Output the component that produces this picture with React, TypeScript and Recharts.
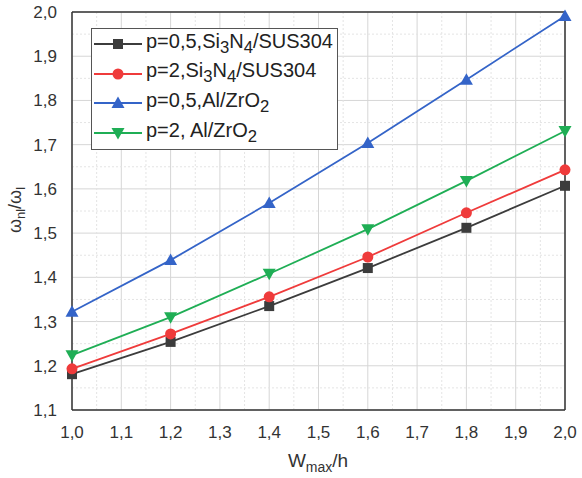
import React from 'react';
import { LineChart, Line, XAxis, YAxis, CartesianGrid, ReferenceLine } from 'recharts';

const xValues = [1.0, 1.2, 1.4, 1.6, 1.8, 2.0];
const sSi05 = [1.181, 1.254, 1.335, 1.421, 1.512, 1.607];
const sSi2 = [1.193, 1.272, 1.356, 1.446, 1.546, 1.643];
const sAl05 = [1.322, 1.439, 1.568, 1.704, 1.847, 1.991];
const sAl2 = [1.224, 1.31, 1.408, 1.509, 1.618, 1.731];

const xTicks = [1.0, 1.1, 1.2, 1.3, 1.4, 1.5, 1.6, 1.7, 1.8, 1.9, 2.0];
const yTicks = [1.1, 1.2, 1.3, 1.4, 1.5, 1.6, 1.7, 1.8, 1.9, 2.0];
const xMinor = [1.05, 1.15, 1.25, 1.35, 1.45, 1.55, 1.65, 1.75, 1.85, 1.95];
const yMinor = [1.15, 1.25, 1.35, 1.45, 1.55, 1.65, 1.75, 1.85, 1.95];

const COLORS = { si05: '#3c3c3c', si2: '#ef3b3b', al05: '#3464c8', al2: '#1fae55' };

const data = xValues.map((x, i) => ({ x, si05: sSi05[i], si2: sSi2[i], al05: sAl05[i], al2: sAl2[i] }));

const fmt = (v: number) => v.toFixed(1).replace('.', ',');
const FONT = 'Liberation Sans, Arial, sans-serif';

type Shape = 'square' | 'circle' | 'up' | 'down';

const marker = (shape: Shape, color: string, cx: number, cy: number, key?: any) => {
  if (shape === 'square') return <rect key={key} x={cx - 5} y={cy - 5} width={10} height={10} fill={color} />;
  if (shape === 'circle') return <circle key={key} cx={cx} cy={cy} r={5.5} fill={color} />;
  if (shape === 'up') return <polygon key={key} points={`${cx},${cy - 6.5} ${cx - 6.5},${cy + 5} ${cx + 6.5},${cy + 5}`} fill={color} />;
  return <polygon key={key} points={`${cx},${cy + 6.5} ${cx - 6.5},${cy - 5} ${cx + 6.5},${cy - 5}`} fill={color} />;
};

const dotFn = (shape: Shape, color: string) => (p: any) => marker(shape, color, p.cx, p.cy, `${shape}-${p.index}`);

const legendItems: { shape: Shape; color: string; label: React.ReactNode }[] = [
  { shape: 'square', color: COLORS.si05, label: <>p=0,5,Si<sub>3</sub>N<sub>4</sub>/SUS304</> },
  { shape: 'circle', color: COLORS.si2, label: <>p=2,Si<sub>3</sub>N<sub>4</sub>/SUS304</> },
  { shape: 'up', color: COLORS.al05, label: <>p=0,5,Al/ZrO<sub>2</sub></> },
  { shape: 'down', color: COLORS.al2, label: <>p=2, Al/ZrO<sub>2</sub></> },
];

const YLabel = () => (
  <text x={21} y={210} transform="rotate(-90 21 210)" textAnchor="middle" fontFamily={FONT} fontSize={18} fill="#333">
    ω<tspan fontSize={13} dy={4}>nl</tspan>
    <tspan dy={-4}>/ω</tspan>
    <tspan fontSize={13} dy={4}>l</tspan>
  </text>
);

const XLabel = () => (
  <text x={318} y={467} textAnchor="middle" fontFamily={FONT} fontSize={19} fill="#333">
    W<tspan fontSize={14} dy={5}>max</tspan>
    <tspan dy={-5}>/h</tspan>
  </text>
);

export default function App() {
  return (
    <div style={{ position: 'absolute', left: 0, top: 0, width: 582, height: 478, background: '#fff' }}>
      <LineChart width={582} height={478} data={data} margin={{ top: 12, right: 17, bottom: 0, left: 0 }}>
        <CartesianGrid stroke="#d6d6d6" strokeWidth={1} />
        {xMinor.map((v) => (
          <ReferenceLine key={`xm${v}`} x={v} stroke="#e4e4e4" strokeDasharray="2 2" />
        ))}
        {yMinor.map((v) => (
          <ReferenceLine key={`ym${v}`} y={v} stroke="#e4e4e4" strokeDasharray="2 2" />
        ))}
        <XAxis
          dataKey="x"
          type="number"
          domain={[1, 2]}
          ticks={xTicks}
          tickFormatter={fmt}
          height={68}
          tickLine={false}
          tickMargin={10}
          axisLine={{ stroke: '#333', strokeWidth: 1.5 }}
          tick={{ fill: '#333', fontSize: 17, fontFamily: FONT }}
          label={<XLabel />}
        />
        <YAxis
          type="number"
          domain={[1.1, 2]}
          ticks={yTicks}
          tickFormatter={fmt}
          width={72}
          tickLine={false}
          tickMargin={9}
          axisLine={{ stroke: '#333', strokeWidth: 1.5 }}
          tick={{ fill: '#333', fontSize: 17, fontFamily: FONT }}
          label={<YLabel />}
        />
        <ReferenceLine y={2} stroke="#333" strokeWidth={1.5} />
        <ReferenceLine x={2} stroke="#333" strokeWidth={1.5} />
        <Line dataKey="si05" stroke={COLORS.si05} strokeWidth={1.8} isAnimationActive={false} dot={dotFn('square', COLORS.si05)} />
        <Line dataKey="si2" stroke={COLORS.si2} strokeWidth={1.8} isAnimationActive={false} dot={dotFn('circle', COLORS.si2)} />
        <Line dataKey="al2" stroke={COLORS.al2} strokeWidth={1.8} isAnimationActive={false} dot={dotFn('down', COLORS.al2)} />
        <Line dataKey="al05" stroke={COLORS.al05} strokeWidth={1.8} isAnimationActive={false} dot={dotFn('up', COLORS.al05)} />
      </LineChart>
      <div
        style={{
          position: 'absolute',
          left: 91,
          top: 28,
          width: 247,
          height: 122,
          boxSizing: 'border-box',
          border: '1.5px solid #555',
          background: '#fff',
          fontFamily: FONT,
          fontSize: 20,
          color: '#222',
        }}
      >
        {legendItems.map((it, i) => (
          <div key={i} style={{ position: 'absolute', left: 0, top: i * 29.7, height: 30, display: 'flex', alignItems: 'center', whiteSpace: 'nowrap' }}>
            <svg width={50} height={20} style={{ marginLeft: 1 }}>
              <line x1={1} y1={10} x2={49} y2={10} stroke={it.color} strokeWidth={1.8} />
              {marker(it.shape, it.color, 25, 10)}
            </svg>
            <span style={{ marginLeft: 3, lineHeight: '20px' }}>{it.label}</span>
          </div>
        ))}
      </div>
    </div>
  );
}
